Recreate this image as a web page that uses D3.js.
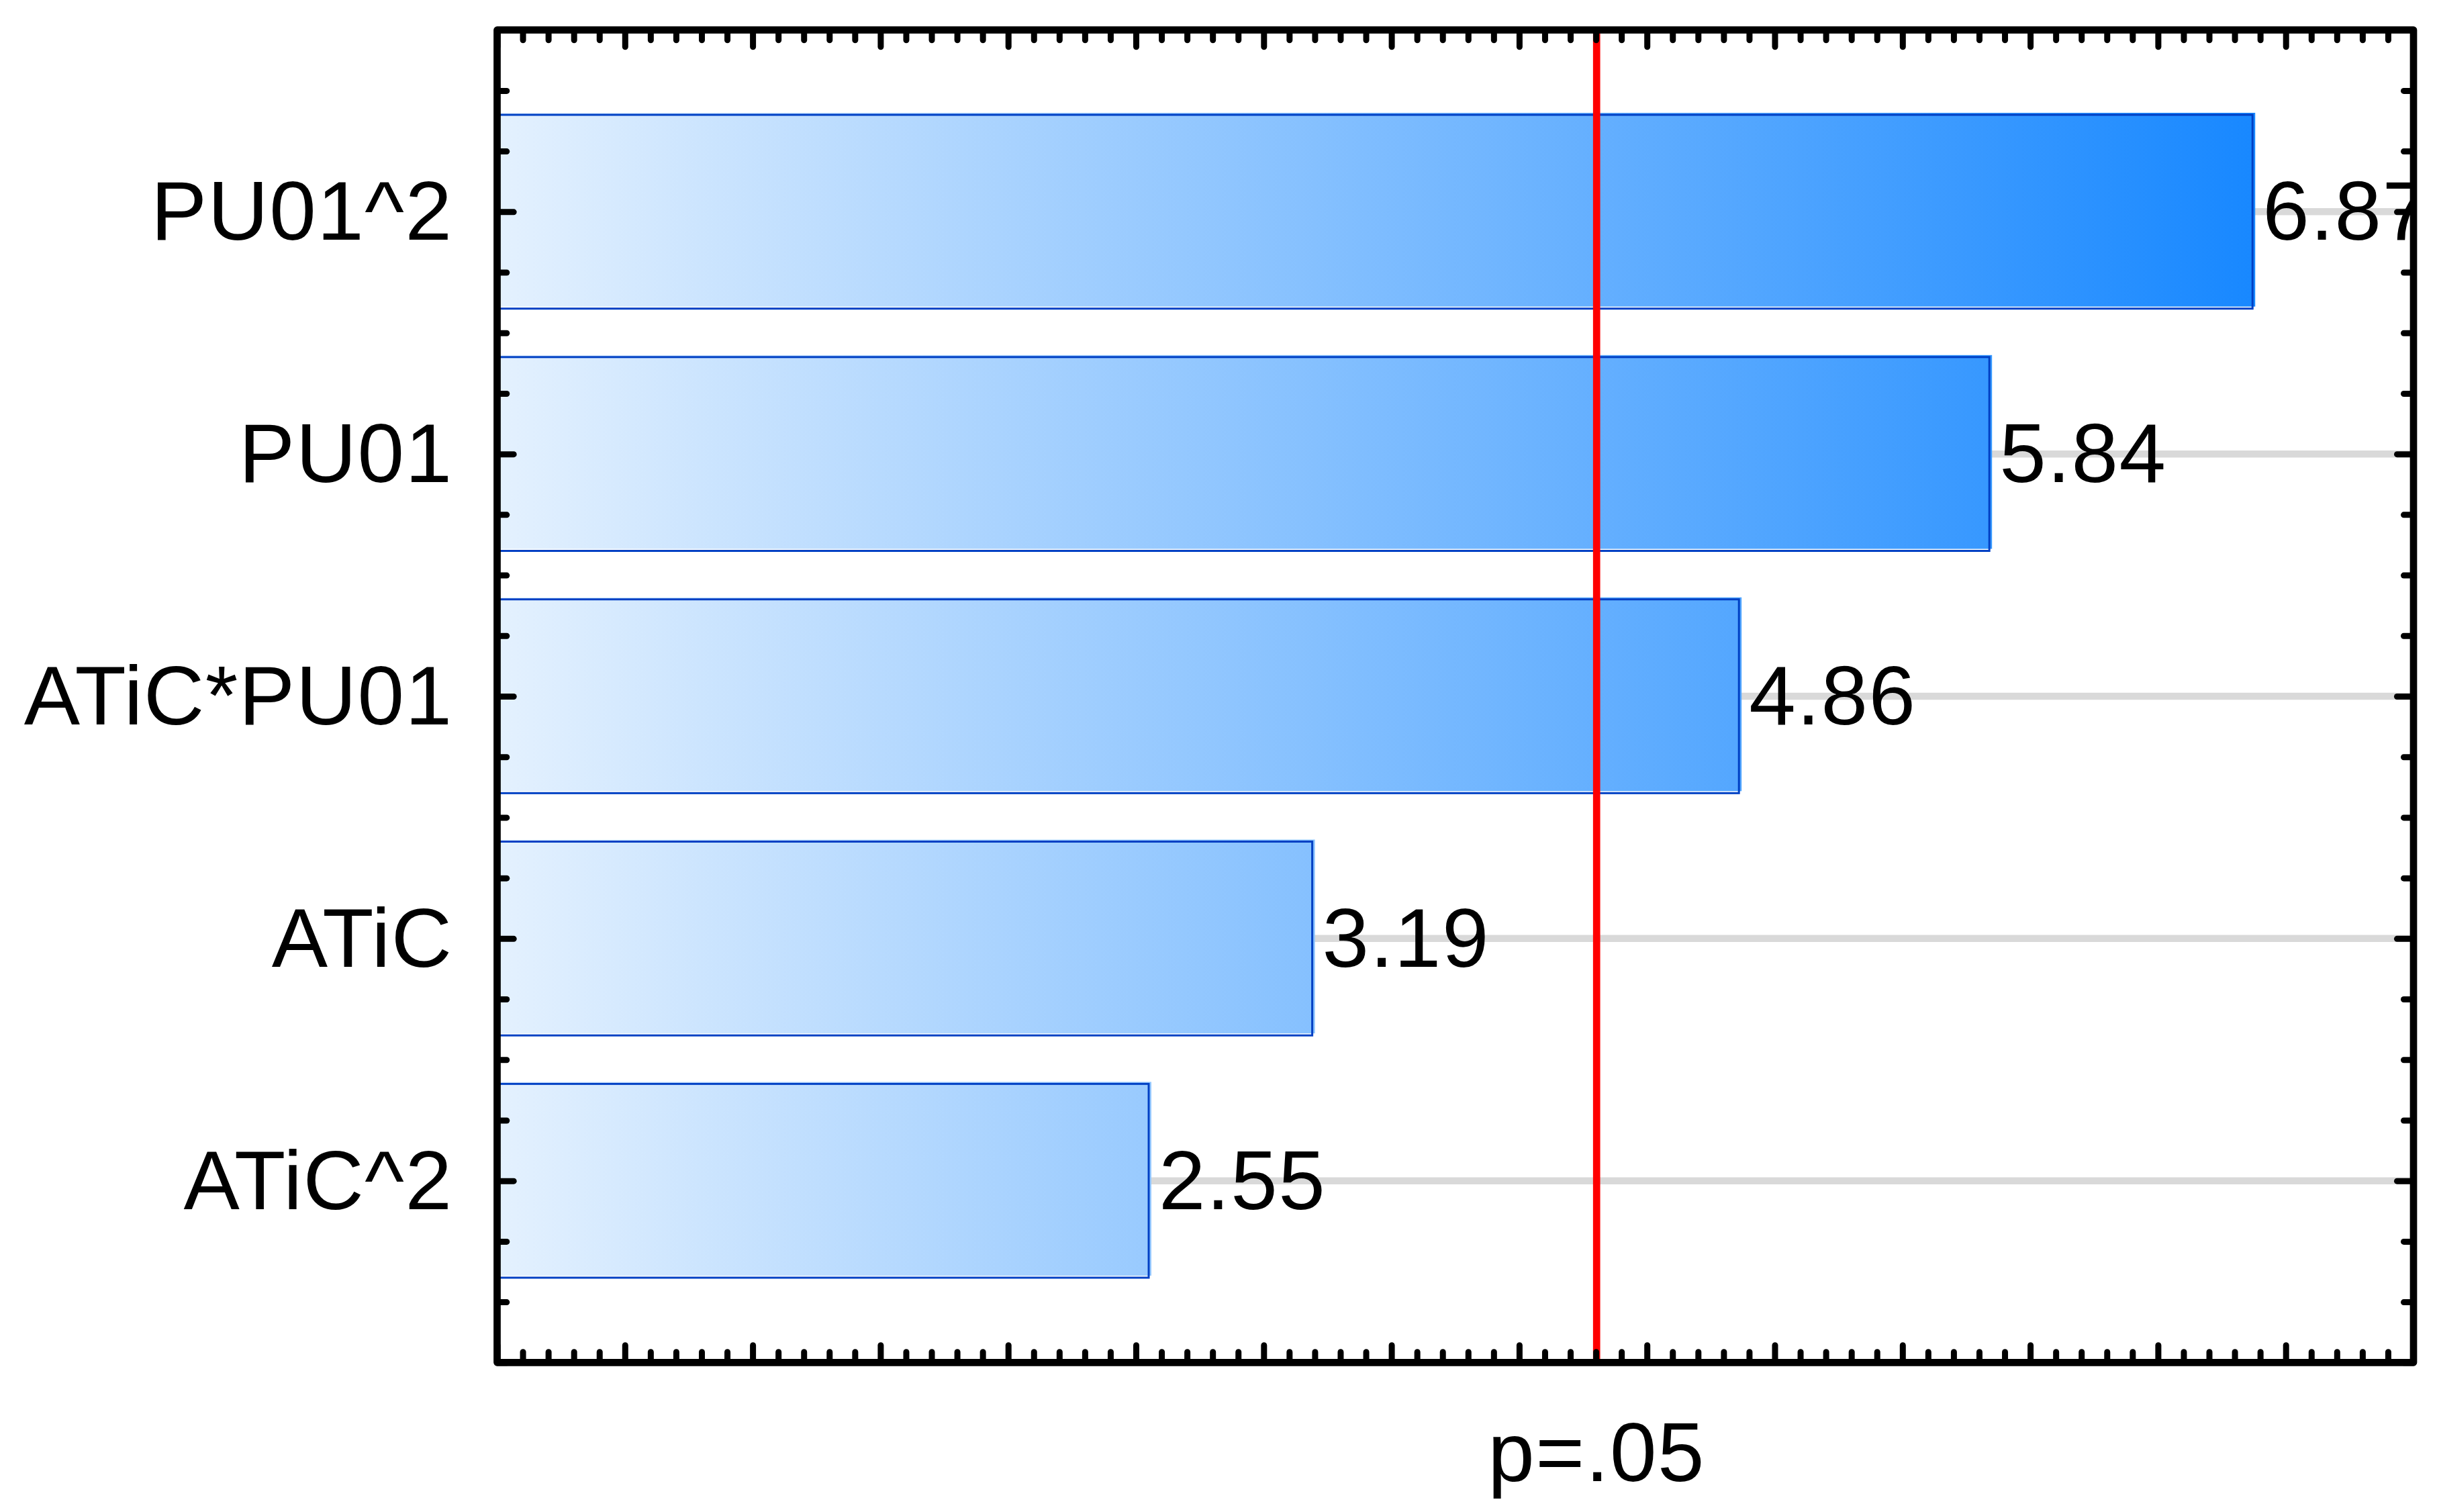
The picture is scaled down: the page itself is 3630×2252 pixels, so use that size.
<!DOCTYPE html>
<html><head><meta charset="utf-8">
<script src="https://cdn.jsdelivr.net/npm/d3@7"></script>
<style>html,body{margin:0;padding:0;background:#fff;} svg{display:block;}</style>
</head><body>
<svg id="chart" width="3630" height="2252"></svg>
<script>
// ---- data ----
const categories = ["PU01^2", "PU01", "ATiC*PU01", "ATiC", "ATiC^2"];
const effects = [6.87, 5.84, 4.86, 3.19, 2.55];
const valueLabels = ["6.87", "5.84", "4.86", "3.19", "2.55"];
const pCritical = 4.303;
const pLabel = "p=.05";
const xDomain = [0, 7.5];
const xMinorTicks = d3.range(0, 76).map(i => i / 10);
const yTickCount = 22;
const yMajorTicks = [3, 7, 11, 15, 19];

// ---- layout ----
const L = 740.5, R = 3595, T = 44.7, B = 2029.3;
const FONT = "'Liberation Sans', Arial, Helvetica, sans-serif";
const LS = "1.5px";
const svg = d3.select("#chart");

const x = d3.scaleLinear().domain(xDomain).range([L, R]);
const yT = d3.scaleLinear().domain([0, yTickCount]).range([T, B]);
const y = d3.scaleBand().domain(categories).range([yT(1), yT(21)]).paddingInner(0.2).paddingOuter(0.1);
const data = categories.map((c, i) => ({c, v: effects[i], lab: valueLabels[i]}));

const defs = svg.append("defs");
const grad = defs.append("linearGradient").attr("id", "barGrad")
  .attr("gradientUnits", "userSpaceOnUse")
  .attr("x1", x(0)).attr("x2", x(d3.max(effects))).attr("y1", 0).attr("y2", 0);
grad.append("stop").attr("offset", 0).attr("stop-color", "#e4f1fe");
grad.append("stop").attr("offset", 1).attr("stop-color", "#1888ff");
defs.append("clipPath").attr("id", "plotClip").append("rect")
  .attr("x", L).attr("y", T).attr("width", R - L).attr("height", B - T);

// gridlines
svg.append("g").selectAll("line").data(data).join("line")
  .attr("x1", x(0)).attr("x2", R)
  .attr("y1", d => y(d.c) + y.bandwidth() / 2).attr("y2", d => y(d.c) + y.bandwidth() / 2)
  .attr("stroke", "#d9d9d9").attr("stroke-width", 10.5);

// bars
const gb = svg.append("g").attr("clip-path", "url(#plotClip)");
gb.selectAll("rect.fill").data(data).join("rect").attr("class", "fill")
  .attr("x", x(0)).attr("y", d => y(d.c) - 3)
  .attr("width", d => x(d.v) - x(0) + 4).attr("height", y.bandwidth())
  .attr("fill", "url(#barGrad)");
gb.selectAll("rect.edge").data(data).join("rect").attr("class", "edge")
  .attr("x", x(0)).attr("y", d => y(d.c))
  .attr("width", d => x(d.v) - x(0)).attr("height", y.bandwidth())
  .attr("fill", "none").attr("stroke", "#0040c4").attr("stroke-width", 3);

// critical line
svg.append("line")
  .attr("x1", x(pCritical)).attr("x2", x(pCritical)).attr("y1", T).attr("y2", B)
  .attr("stroke", "#ff0000").attr("stroke-width", 10.7);

// value labels
svg.append("g").attr("clip-path", "url(#plotClip)")
  .selectAll("text").data(data).join("text")
  .attr("x", d => x(d.v) + 15).attr("y", d => y(d.c) + y.bandwidth() / 2)
  .attr("dy", "0.336em").attr("letter-spacing", LS)
  .attr("font-family", FONT).attr("font-size", 125).attr("fill", "#000")
  .text(d => d.lab);

// ticks
const isMajX = d => Math.round(d * 10) % 5 === 0;
const isMajY = d => yMajorTicks.includes(d);
function styleTicks(g) {
  g.select(".domain").remove();
  g.selectAll(".tick line").attr("stroke", "#000").attr("stroke-width", 9).attr("stroke-linecap", "round");
}
svg.append("g").attr("transform", `translate(0,${T})`)
  .call(d3.axisTop(x).tickValues(xMinorTicks).tickFormat("").tickSizeInner(-15).tickSizeOuter(0))
  .call(styleTicks)
  .call(g => g.selectAll(".tick line").attr("y2", d => isMajX(d) ? 25 : 15));
svg.append("g").attr("transform", `translate(0,${B})`)
  .call(d3.axisBottom(x).tickValues(xMinorTicks).tickFormat("").tickSizeInner(-15).tickSizeOuter(0))
  .call(styleTicks)
  .call(g => g.selectAll(".tick line").attr("y2", d => isMajX(d) ? -25.5 : -15.5));
svg.append("g").attr("transform", `translate(${L},0)`)
  .call(d3.axisLeft(yT).tickValues(d3.range(0, yTickCount + 1)).tickFormat("").tickSizeInner(-15).tickSizeOuter(0))
  .call(styleTicks)
  .call(g => g.selectAll(".tick line").attr("x2", d => isMajY(d) ? 24.7 : 14.3));
svg.append("g").attr("transform", `translate(${R},0)`)
  .call(d3.axisRight(yT).tickValues(d3.range(0, yTickCount + 1)).tickFormat("").tickSizeInner(-15).tickSizeOuter(0))
  .call(styleTicks)
  .call(g => g.selectAll(".tick line").attr("x2", d => isMajY(d) ? -24.5 : -14.5));

// frame
svg.append("rect").attr("x", L).attr("y", T).attr("width", R - L).attr("height", B - T)
  .attr("fill", "none").attr("stroke", "#000").attr("stroke-width", 10.7).attr("stroke-linejoin", "round");

// category labels
svg.append("g").attr("transform", `translate(${L},0)`)
  .call(d3.axisLeft(y).tickSize(0).tickPadding(66))
  .call(g => g.select(".domain").remove())
  .call(g => g.selectAll("text").attr("font-family", FONT).attr("font-size", 125)
    .attr("letter-spacing", LS).attr("fill", "#000").attr("dy", "0.336em"));

// p label
svg.append("text").attr("x", x(pCritical)).attr("y", 2206)
  .attr("text-anchor", "middle").attr("font-family", FONT).attr("font-size", 125)
  .attr("letter-spacing", LS).attr("fill", "#000").text(pLabel);
</script>
</body></html>
